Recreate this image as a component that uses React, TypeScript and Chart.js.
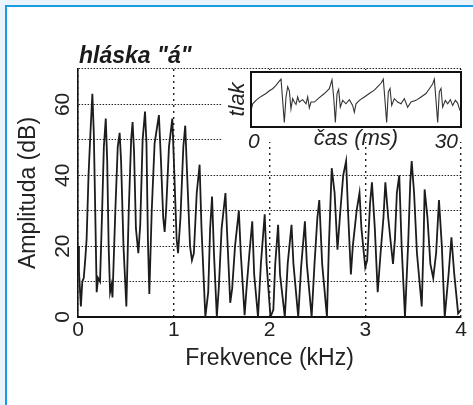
import React, { useEffect, useRef } from 'react';
import { Chart, registerables } from 'chart.js';

Chart.register(...registerables);

const FONT = '"Liberation Sans", Arial, Helvetica, sans-serif';

// ---- main spectrum (frequency in kHz, amplitude in dB) ----
const freqKHz = [
  0.0, 0.01, 0.03, 0.045, 0.06, 0.075, 0.09, 0.11, 0.13, 0.15, 0.165, 0.18, 0.195, 0.21, 0.23,
  0.25, 0.27, 0.29, 0.305, 0.32, 0.335, 0.35, 0.36, 0.39, 0.415, 0.435, 0.45, 0.475, 0.505, 0.53,
  0.555, 0.57, 0.585, 0.605, 0.63, 0.65, 0.675, 0.7, 0.715, 0.73, 0.745, 0.77, 0.8, 0.845, 0.865,
  0.89, 0.905, 0.92, 0.95, 0.985, 1.0, 1.03, 1.045, 1.07, 1.1, 1.12, 1.14, 1.17, 1.19, 1.21,
  1.24, 1.27, 1.29, 1.33, 1.36, 1.38, 1.4, 1.42, 1.45, 1.47, 1.5, 1.54, 1.56, 1.59, 1.61,
  1.64, 1.68, 1.7, 1.74, 1.76, 1.79, 1.82, 1.84, 1.88, 1.91, 1.95, 1.97, 2.01, 2.04, 2.06,
  2.09, 2.11, 2.16, 2.19, 2.23, 2.25, 2.3, 2.33, 2.37, 2.39, 2.44, 2.47, 2.5, 2.52, 2.55,
  2.6, 2.62, 2.65, 2.68, 2.71, 2.74, 2.77, 2.8, 2.82, 2.85, 2.87, 2.91, 2.94, 2.96, 3.0,
  3.02, 3.05, 3.07, 3.1, 3.13, 3.16, 3.19, 3.21, 3.24, 3.27, 3.29, 3.31, 3.33, 3.355, 3.38,
  3.415, 3.45, 3.47, 3.485, 3.51, 3.54, 3.59, 3.61, 3.62, 3.65, 3.68, 3.71, 3.74, 3.77, 3.8,
  3.83, 3.87, 3.9, 3.93, 3.97, 4.0,
];
const amplitudeDB = [
  20, 13, 3, 10, 11, 16, 22, 40, 52, 63, 52, 30, 7, 11, 10,
  28, 48, 56, 44, 20, 7, 9, 5.5, 30, 48, 52, 44, 20, 3, 30,
  50, 55, 47, 25, 18, 26, 50, 58, 49, 22, 6.5, 30, 49, 57, 45,
  28, 24, 30, 48, 56, 45, 22, 18, 28, 48, 54, 40, 20, 16, 18,
  35, 43, 25, 0, 7, 25, 34, 18, 0, 8, 25, 35, 22, 4, 8,
  20, 30, 18, 0.5, 8, 18, 27, 12, 0, 15, 29, 15, 0, 2, 15,
  26, 12, 0, 15, 26, 15, 0, 14, 27, 15, 0, 15, 28, 33, 15,
  0, 20, 42, 35, 19, 30, 40, 44, 30, 12, 20, 30, 35, 25, 14,
  16, 32, 38, 25, 7, 18, 28, 38, 28, 20, 15, 22, 35, 40, 20,
  0, 22, 38, 44, 35, 18, 3, 22, 36, 28, 15, 11, 18, 33, 20,
  0, 12, 22.5, 12, 1, 2,
];
const yLabelTicks = [0, 20, 40, 60];
const chartTitle = 'hláska "á"';
const xAxisTitle = 'Frekvence (kHz)';
const yAxisTitle = 'Amplituda (dB)';

// ---- inset waveform (time in ms, relative pressure) ----
const timeMs = [
  0, 0.24, 0.71, 1.19, 1.67, 2.14, 2.62, 3.1, 3.57, 3.95, 4.29, 4.52, 4.76, 5.0, 5.24,
  5.48, 5.71, 5.95, 6.19, 6.43, 6.67, 6.9, 7.38, 7.86, 8.1, 8.33, 8.57, 9.05, 9.76, 10.48,
  11.19, 11.57, 11.81, 12.05, 12.29, 12.52, 12.76, 13.1, 13.57, 14.05, 14.52, 14.76, 15.0, 15.48, 16.19,
  16.9, 17.62, 18.1, 18.57, 18.9, 19.14, 19.38, 19.62, 19.86, 20.1, 20.48, 20.95, 21.43, 21.9, 22.38,
  22.86, 23.57, 24.29, 25.0, 25.48, 25.95, 26.19, 26.43, 26.67, 26.9, 27.14, 27.38, 27.76, 28.1, 28.48,
  28.81, 29.19, 29.52, 29.86,
];
const pressure = [
  4.8, 6.8, 7.8, 8.6, 9.2, 9.8, 10.6, 11.2, 12.2, 13.2, 14.0, 7.8, 1.3, 8.8, 11.8,
  10.6, 5.3, 8.3, 7.3, 6.6, 8.8, 7.3, 8.0, 6.8, 8.8, 5.6, 7.3, 7.3, 8.6, 9.8,
  11.2, 13.8, 8.8, 1.3, 9.8, 11.0, 5.8, 7.8, 6.8, 8.0, 6.3, 4.3, 6.8, 7.8, 8.8,
  9.8, 10.8, 11.8, 12.8, 14.0, 7.8, 1.3, 10.3, 11.3, 6.3, 8.3, 7.3, 6.8, 8.3, 5.8,
  7.3, 7.8, 8.8, 9.8, 11.2, 12.6, 14.0, 7.8, 1.3, 10.3, 11.3, 5.8, 7.8, 6.8, 8.0,
  6.3, 7.8, 7.0, 4.8,
];
const insetXTicks = [0, 30];
const insetXTitle = 'čas (ms)';
const insetYTitle = 'tlak';

const titlePlugin = {
  id: 'customTitle',
  afterDraw(chart: any) {
    const { ctx, chartArea } = chart;
    ctx.save();
    ctx.font = `italic bold 23px ${FONT}`;
    ctx.fillStyle = '#1a1a1a';
    ctx.textAlign = 'left';
    ctx.textBaseline = 'alphabetic';
    ctx.fillText(chartTitle, chartArea.left + 1, 63);
    ctx.restore();
  },
};

const insetBgPlugin = {
  id: 'insetBg',
  beforeDraw(chart: any) {
    const { ctx, width } = chart;
    ctx.save();
    ctx.fillStyle = '#ffffff';
    ctx.fillRect(0, 0, width, 72);
    ctx.restore();
  },
  afterDatasetsDraw(chart: any) {
    const { ctx, chartArea } = chart;
    ctx.save();
    ctx.strokeStyle = '#111';
    ctx.lineWidth = 2;
    ctx.strokeRect(chartArea.left, chartArea.top, chartArea.right - chartArea.left, chartArea.bottom - chartArea.top);
    ctx.restore();
  },
};

export default function App() {
  const mainRef = useRef<HTMLCanvasElement>(null);
  const insetRef = useRef<HTMLCanvasElement>(null);

  useEffect(() => {
    const main = new Chart(mainRef.current as HTMLCanvasElement, {
      type: 'line',
      data: {
        datasets: [
          {
            data: freqKHz.map((f, i) => ({ x: f, y: amplitudeDB[i] })),
            borderColor: '#1c1c1c',
            borderWidth: 1.8,
            pointRadius: 0,
            tension: 0,
            fill: false,
          },
        ],
      },
      options: {
        animation: false,
        responsive: false,
        maintainAspectRatio: false,
        layout: { padding: { top: 69, right: 12, left: 0, bottom: 0 } },
        plugins: { legend: { display: false }, tooltip: { enabled: false } },
        scales: {
          x: {
            type: 'linear',
            min: 0,
            max: 4,
            afterFit: (s: any) => { s.height = 88; },
            ticks: { stepSize: 1, font: { family: FONT, size: 21 }, color: '#222', padding: 1, maxRotation: 0 },
            grid: { color: '#222', lineWidth: 1.4, drawTicks: false },
            border: { display: true, color: '#111', width: 2, dash: [2, 4] },
            title: {
              display: true,
              text: xAxisTitle,
              font: { family: FONT, size: 23 },
              color: '#222',
              padding: { top: 0, bottom: 33 },
            },
          },
          y: {
            type: 'linear',
            min: 0,
            max: 70,
            afterFit: (s: any) => { s.width = 78; },
            ticks: {
              stepSize: 10,
              callback: (v: any) => (yLabelTicks.includes(Number(v)) ? String(v) : ''),
              minRotation: 90,
              maxRotation: 90,
              crossAlign: 'center',
              padding: 3,
              font: { family: FONT, size: 21 },
              color: '#222',
            },
            grid: { color: '#222', lineWidth: 1.1, drawTicks: false },
            border: { display: true, color: '#111', width: 1.6, dash: [1.5, 1.5] },
            title: {
              display: true,
              text: yAxisTitle,
              font: { family: FONT, size: 23 },
              color: '#222',
              padding: { top: 15, bottom: 0 },
            },
          },
        },
      } as any,
      plugins: [titlePlugin],
    });

    const inset = new Chart(insetRef.current as HTMLCanvasElement, {
      type: 'line',
      data: {
        datasets: [
          {
            data: timeMs.map((t, i) => ({ x: t, y: pressure[i] })),
            borderColor: '#333',
            borderWidth: 1.1,
            pointRadius: 0,
            tension: 0,
            fill: false,
          },
        ],
      },
      options: {
        animation: false,
        responsive: false,
        maintainAspectRatio: false,
        layout: { padding: { top: 2, right: 2, left: 0, bottom: 0 } },
        plugins: { legend: { display: false }, tooltip: { enabled: false } },
        scales: {
          x: {
            type: 'linear',
            min: 0,
            max: 30,
            afterFit: (s: any) => { s.height = 33; },
            afterBuildTicks: (s: any) => { s.ticks = insetXTicks.map((v) => ({ value: v })); },
            ticks: {
              font: { family: FONT, size: 21, style: 'italic' },
              color: '#222',
              padding: -5,
              align: 'inner',
              labelOffset: -3,
              maxRotation: 0,
            },
            grid: { display: false },
            border: { display: false },
            title: {
              display: true,
              text: insetXTitle,
              font: { family: FONT, size: 22, style: 'italic' },
              color: '#222',
              padding: { top: 0, bottom: 8 },
            },
          },
          y: {
            type: 'linear',
            min: 0,
            max: 16.1,
            afterFit: (s: any) => { s.width = 29; },
            ticks: { display: false },
            grid: { display: false },
            border: { display: false },
            title: {
              display: true,
              text: insetYTitle,
              font: { family: FONT, size: 22, style: 'italic' },
              color: '#222',
              padding: { top: 3, bottom: 0 },
            },
          },
        },
      } as any,
      plugins: [insetBgPlugin],
    });

    return () => {
      main.destroy();
      inset.destroy();
    };
  }, []);

  return (
    <div
      style={{
        position: 'fixed',
        left: 0,
        top: 0,
        width: 473,
        height: 405,
        overflow: 'hidden',
        background: '#eaf4fc',
      }}
    >
      <div
        style={{
          position: 'absolute',
          left: 5,
          top: 5,
          width: 480,
          height: 420,
          background: '#ffffff',
          borderLeft: '2px solid #1b9be3',
          borderTop: '2px solid #1b9be3',
        }}
      />
      <canvas
        ref={mainRef}
        width={473}
        height={405}
        style={{ position: 'absolute', left: 0, top: 0, width: 473, height: 405 }}
      />
      <canvas
        ref={insetRef}
        width={241}
        height={90}
        style={{ position: 'absolute', left: 222, top: 70, width: 241, height: 90 }}
      />
    </div>
  );
}
